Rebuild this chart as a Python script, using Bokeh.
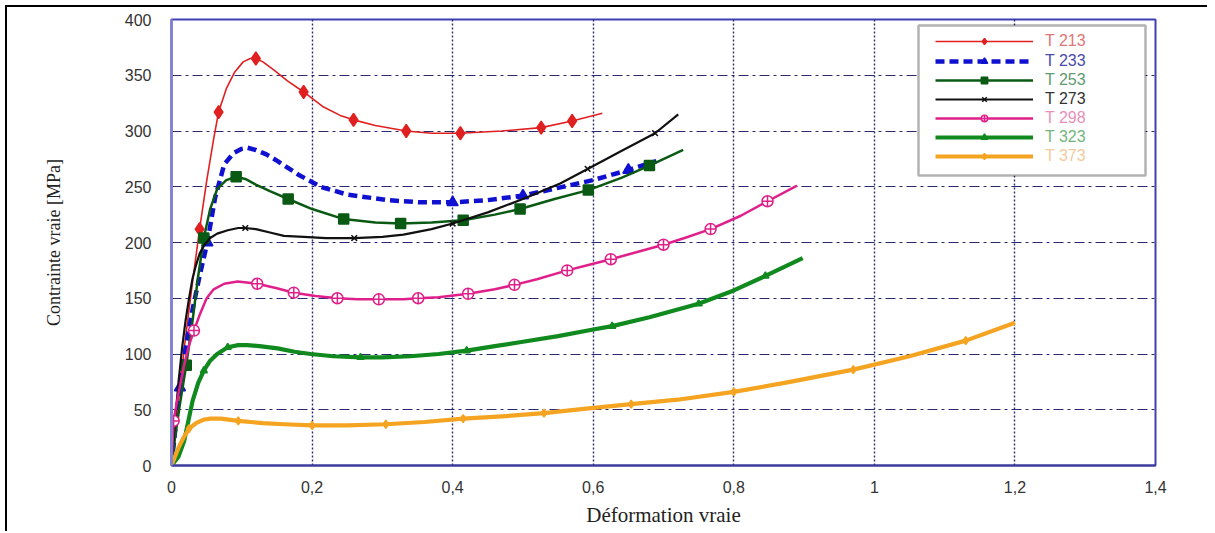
from bokeh.plotting import figure
from bokeh.layouts import column
from bokeh.models import (Range1d, FixedTicker, Legend, LegendItem, BoxAnnotation)
from bokeh.embed import file_html
from bokeh.resources import INLINE

# ---------------- data ----------------
X_TICKS = [0, 0.2, 0.4, 0.6, 0.8, 1, 1.2, 1.4]
X_TICK_LABELS = ["0", "0,2", "0,4", "0,6", "0,8", "1", "1,2", "1,4"]
Y_TICKS = [0, 50, 100, 150, 200, 250, 300, 350, 400]
Y_TICK_LABELS = ["0", "50", "100", "150", "200", "250", "300", "350", "400"]

NAMES = ["T 213", "T 233", "T 253", "T 273", "T 298", "T 323", "T 373"]

T213_X = [0, 0.005, 0.012, 0.02, 0.03, 0.04, 0.05, 0.06, 0.067, 0.078, 0.09, 0.102, 0.112, 0.12,
          0.13, 0.145, 0.165, 0.188, 0.215, 0.24, 0.259, 0.29, 0.334, 0.37, 0.411, 0.47, 0.526, 0.57, 0.613]
T213_Y = [0, 25, 70, 115, 165, 212, 255, 293, 317, 338, 353, 362, 365, 365,
          362, 355, 345, 335, 322, 314, 310, 305, 300, 298, 298, 300, 303, 309, 316]
T213_M = [0.04, 0.067, 0.12, 0.188, 0.259, 0.334, 0.411, 0.526, 0.57]

T233_X = [0, 0.005, 0.012, 0.02, 0.03, 0.04, 0.051, 0.062, 0.075, 0.088, 0.1, 0.108, 0.12, 0.135,
          0.151, 0.18, 0.212, 0.25, 0.307, 0.354, 0.4, 0.45, 0.5, 0.55, 0.6, 0.65, 0.69]
T233_Y = [0, 30, 70, 105, 140, 170, 200, 240, 270, 280, 284, 285, 283, 279,
          273, 261, 250, 243, 238, 236, 236, 238, 242, 249, 256, 265, 273]
T233_M = [0.012, 0.051, 0.4, 0.5, 0.65]

T253_X = [0, 0.005, 0.012, 0.021, 0.03, 0.038, 0.046, 0.055, 0.065, 0.078, 0.092, 0.105, 0.12, 0.14,
          0.166, 0.2, 0.245, 0.29, 0.326, 0.37, 0.415, 0.46, 0.496, 0.545, 0.593, 0.64, 0.68, 0.728]
T253_Y = [0, 25, 55, 90, 130, 170, 204, 230, 248, 256, 259, 257, 252, 246,
          239, 230, 221, 218, 217, 218, 220, 225, 230, 239, 247, 258, 269, 283]
T253_M = [0.021, 0.046, 0.092, 0.166, 0.245, 0.326, 0.415, 0.496, 0.593, 0.68]

T273_X = [0, 0.005, 0.01, 0.015, 0.02, 0.025, 0.03, 0.035, 0.04, 0.047, 0.055, 0.065, 0.08, 0.095,
          0.105, 0.12, 0.14, 0.16, 0.188, 0.22, 0.26, 0.3, 0.33, 0.37, 0.4, 0.45, 0.5, 0.553, 0.592,
          0.64, 0.688, 0.721]
T273_Y = [0, 40, 75, 105, 130, 150, 168, 180, 190, 198, 204, 208, 211, 213,
          213, 212, 209, 206, 205, 204, 204, 205, 207, 212, 217, 227, 239, 253, 266,
          282, 298, 315]
T273_M = [0.105, 0.26, 0.4, 0.592, 0.688]

T298_X = [0, 0.003, 0.01, 0.018, 0.025, 0.032, 0.04, 0.05, 0.06, 0.075, 0.094, 0.11, 0.122, 0.15,
          0.174, 0.205, 0.236, 0.265, 0.295, 0.33, 0.351, 0.38, 0.422, 0.46, 0.488, 0.52, 0.563,
          0.6, 0.625, 0.66, 0.7, 0.73, 0.767, 0.81, 0.848, 0.89]
T298_Y = [0, 40, 65, 90, 108, 121, 135, 150, 158, 163, 165, 164, 163, 159,
          155, 152, 150, 149, 149, 149, 150, 151, 154, 158, 162, 167, 175,
          181, 185, 191, 198, 204, 212, 224, 237, 251]
T298_M = [0.003, 0.032, 0.122, 0.174, 0.236, 0.295, 0.351, 0.422, 0.488, 0.563, 0.625, 0.7, 0.767, 0.848]

T323_X = [0, 0.01, 0.018, 0.024, 0.03, 0.038, 0.046, 0.055, 0.065, 0.08, 0.095, 0.108, 0.125, 0.151,
          0.175, 0.198, 0.23, 0.269, 0.3, 0.34, 0.38, 0.42, 0.46, 0.5, 0.55, 0.6, 0.627, 0.68, 0.75,
          0.8, 0.845, 0.898]
T323_Y = [0, 8, 22, 40, 58, 74, 85, 94, 100, 106, 108, 108, 107, 105,
          102, 100, 98, 97, 97, 98, 100, 103, 107, 111, 116, 122, 125, 133, 145,
          157, 170, 186]
T323_M = [0.046, 0.08, 0.269, 0.42, 0.627, 0.75, 0.845]

T373_X = [0, 0.005, 0.01, 0.018, 0.025, 0.035, 0.045, 0.055, 0.07, 0.095, 0.13, 0.16, 0.2, 0.25,
          0.305, 0.36, 0.415, 0.47, 0.53, 0.59, 0.654, 0.72, 0.8, 0.88, 0.97, 1.05, 1.13, 1.2]
T373_Y = [0, 8, 16, 26, 33, 38, 41, 42, 42, 40, 38, 37, 36, 36,
          37, 39, 42, 44, 47, 51, 55, 59, 66, 75, 86, 98, 112, 128]
T373_M = [0.025, 0.095, 0.2, 0.305, 0.415, 0.53, 0.654, 0.8, 0.97, 1.13]

# ---------------- figure ----------------
OFF = 7  # wrapper border + margin
H = 524
p = figure(width=1200, height=H, x_range=Range1d(0, 1.4), y_range=Range1d(0, 400),
           output_backend="svg", toolbar_location=None,
           min_border_left=171 - OFF, min_border_right=1200 - (1155 - OFF),
           min_border_top=19 - OFF, min_border_bottom=H - (465 - OFF),
           background_fill_color="white", border_fill_color="white")

p.outline_line_color = "#4040b0"
p.outline_line_width = 2

p.xaxis.ticker = FixedTicker(ticks=X_TICKS)
p.yaxis.ticker = FixedTicker(ticks=Y_TICKS)
p.xaxis.major_label_overrides = {t: l for t, l in zip(X_TICKS, X_TICK_LABELS)}
p.yaxis.major_label_overrides = {t: l for t, l in zip(Y_TICKS, Y_TICK_LABELS)}

for ax in (p.xaxis, p.yaxis):
    ax.major_tick_in = 0
    ax.major_tick_out = 0
    ax.minor_tick_in = 0
    ax.minor_tick_out = 0
    ax.major_label_text_font = "Liberation Sans"
    ax.major_label_text_font_size = "16px"
    ax.major_label_text_color = "#333333"
    ax.axis_label_text_font = "Liberation Serif"
    ax.axis_label_text_font_style = "normal"
    ax.axis_label_text_color = "#222222"

p.xaxis.axis_label = "Déformation vraie"
p.xaxis.axis_label_text_font_size = "21px"
p.xaxis.major_label_standoff = 15
p.xaxis.axis_label_standoff = 7
p.xaxis.axis_line_color = "#3a3a9a"
p.xaxis.axis_line_width = 2

p.yaxis.axis_label = "Contrainte vraie [MPa]"
p.yaxis.axis_label_text_font_size = "18px"
p.yaxis.major_label_standoff = 20
p.yaxis.axis_label_standoff = 58
p.yaxis.axis_line_color = "#8484d4"
p.yaxis.axis_line_width = 3

p.xgrid.grid_line_color = "#2a2a70"
p.xgrid.grid_line_dash = "2 2"
p.xgrid.grid_line_width = 1.4
p.ygrid.grid_line_color = "#2a2a70"
p.ygrid.grid_line_dash = "10 4 3 4"
p.ygrid.grid_line_width = 1.2


def pick(xs, ys, marks):
    mx, my = [], []
    for x, y in zip(xs, ys):
        if x in marks:
            mx.append(x)
            my.append(y)
    return mx, my


series = [
    (T213_X, T213_Y, T213_M, dict(color="#e02020", width=1.6, dash="solid"),
     dict(marker="diamond", size=13, fill="#e02020", line="#e02020"), "#e07575"),
    (T233_X, T233_Y, T233_M, dict(color="#1010d0", width=4.5, dash="9 5"),
     dict(marker="triangle", size=11, fill="#1010d0", line="#1010d0"), "#4a4aa8"),
    (T253_X, T253_Y, T253_M, dict(color="#0a5a14", width=2.5, dash="solid"),
     dict(marker="square", size=10, fill="#0a5a14", line="#0a5a14"), "#5f9a70"),
    (T273_X, T273_Y, T273_M, dict(color="#111111", width=2.2, dash="solid"),
     dict(marker="x", size=8, fill="#111111", line="#111111"), "#333333"),
    (T298_X, T298_Y, T298_M, dict(color="#e0208a", width=2.5, dash="solid"),
     dict(marker="circle_cross", size=11, fill="white", line="#e0208a"), "#e890b8"),
    (T323_X, T323_Y, T323_M, dict(color="#108a1e", width=4.2, dash="solid"),
     dict(marker="triangle", size=7, fill="#108a1e", line="#108a1e"), "#74b47c"),
    (T373_X, T373_Y, T373_M, dict(color="#f5a422", width=4.2, dash="solid"),
     dict(marker="diamond", size=8, fill="#f5a422", line="#f5a422"), "#f2caa0"),
]

renderers = []
for xs, ys, marks, ls, ms, tc in series:
    r_line = p.line(xs, ys, line_color=ls["color"], line_width=ls["width"],
                    line_dash=ls["dash"], line_join="round")
    mx, my = pick(xs, ys, marks)
    r_mark = p.scatter(mx, my, marker=ms["marker"], size=ms["size"],
                       fill_color=ms["fill"], line_color=ms["line"], line_width=1.5)
    renderers.append((r_line, r_mark, tc))

# legend box
p.add_layout(BoxAnnotation(left=747, right=974, bottom=290, top=440,
                           left_units="screen", right_units="screen",
                           top_units="screen", bottom_units="screen",
                           fill_color="white", fill_alpha=1,
                           line_color="black", line_width=2.5))

ROW_Y = [42, 62, 81, 100, 119, 138, 157]
for name, (rl, rm, tc), ry in zip(NAMES, renderers, ROW_Y):
    lg = Legend(items=[LegendItem(label=name, renderers=[rl, rm])],
                location=(764, int(465 - ry - 8)),
                padding=0, margin=0, spacing=0,
                glyph_width=98, glyph_height=16, label_height=16,
                label_standoff=12,
                label_text_font="Liberation Sans", label_text_font_size="16px",
                label_text_color=tc,
                border_line_alpha=0, background_fill_alpha=0)
    p.add_layout(lg)

layout = column(p, styles={"border-top": "2px solid black", "border-left": "2px solid black",
                           "margin-top": "5px", "margin-left": "5px"})

open("out.html", "w").write(file_html(layout, INLINE))
